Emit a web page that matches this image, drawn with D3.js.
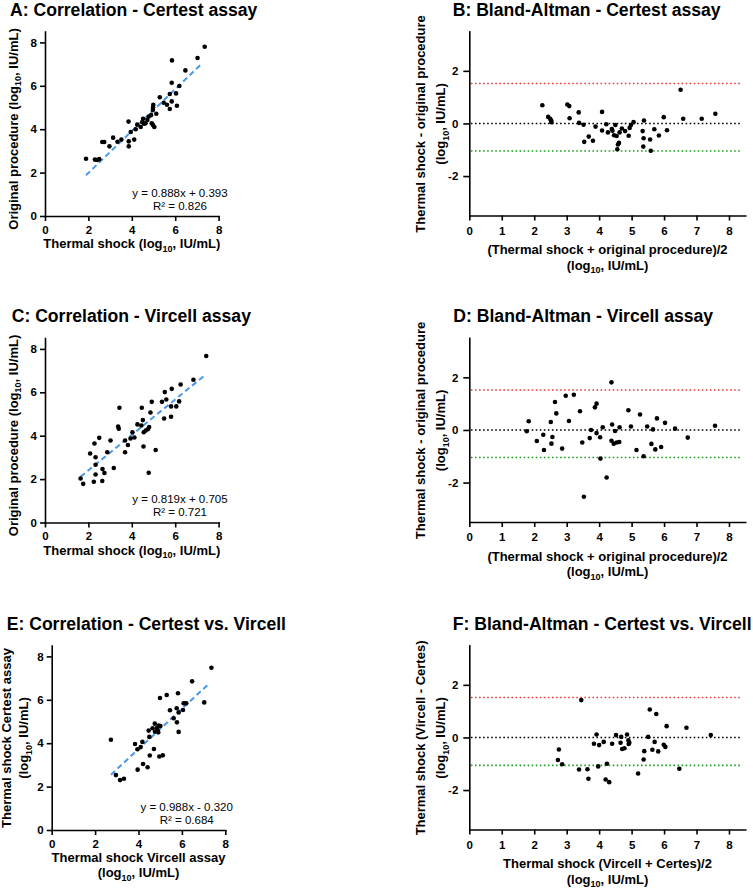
<!DOCTYPE html>
<html><head><meta charset="utf-8">
<script src="https://cdn.jsdelivr.net/npm/d3@7"></script>
<style>
body{margin:0;background:#fff}
svg{display:block}
</style>
</head><body>
<svg id="chart" width="753" height="891"></svg>
<script>
// ---------------- DATA ----------------
// A: Correlation - Certest assay  [thermal shock, original procedure]
const corrCertest = [[1.89,2.64],[2.30,2.60],[2.40,2.58],[2.50,2.62],[2.64,3.41],[2.73,3.41],[2.97,3.21],[3.14,3.61],[3.34,3.42],[3.52,3.52],[3.86,3.44],[3.86,3.21],[4.11,3.52],[3.85,4.35],[3.95,3.87],[4.18,4.00],[4.25,4.21],[4.41,4.10],[4.48,4.33],[4.52,4.48],[4.63,4.27],[4.72,4.42],[4.78,4.58],[4.55,4.25],[4.89,4.65],[4.92,4.27],[4.98,4.19],[5.04,4.10],[4.97,4.88],[4.98,5.01],[4.99,5.12],[5.13,4.71],[5.29,5.47],[5.47,5.22],[5.62,5.13],[5.75,4.93],[5.75,5.62],[5.84,5.28],[6.04,5.65],[6.08,5.08],[5.84,6.14],[6.19,5.99],[5.85,7.17],[6.47,6.71],[7.03,7.28],[7.36,7.80]];
const fitCertest = [[1.89,1.88],[7.25,7.05]];
const eqCertest = ["y = 0.888x + 0.393", "R² = 0.826"];

// B: Bland-Altman - Certest assay [mean, difference]
const baCertest = [[2.25,0.69],[2.43,0.25],[2.49,0.18],[2.52,0.12],[2.53,0.05],[3.02,0.72],[3.08,0.66],[3.09,0.20],[3.37,0.42],[3.38,0.02],[3.52,-0.05],[3.54,-0.70],[3.68,-0.50],[3.81,-0.66],[3.89,-0.12],[4.09,0.44],[4.09,-0.27],[4.22,-0.03],[4.27,-0.34],[4.39,-0.21],[4.41,-0.28],[4.46,-0.45],[4.50,-0.06],[4.54,-0.48],[4.58,-0.80],[4.61,-0.74],[4.56,-0.98],[4.63,-0.34],[4.70,-0.19],[4.80,-0.29],[4.91,-0.47],[4.94,-0.17],[4.98,-0.06],[5.06,0.05],[5.34,-0.29],[5.38,0.11],[5.37,-0.56],[5.36,-0.88],[5.57,-0.61],[5.59,-1.04],[5.70,-0.22],[5.84,-0.46],[5.99,0.24],[6.09,-0.26],[6.51,1.28],[6.59,0.18],[7.16,0.18],[7.58,0.37]];
const limitsCertest = [1.52, 0, -1.05];

// C: Correlation - Vircell assay
const corrVircell = [[1.64,2.03],[1.76,1.78],[2.08,3.18],[2.25,1.88],[2.28,3.64],[2.33,3.01],[2.33,2.66],[2.33,2.21],[2.50,3.90],[2.65,2.46],[2.74,2.28],[2.64,1.91],[2.87,3.24],[3.02,3.78],[3.17,2.51],[3.43,5.29],[3.37,4.42],[3.40,4.32],[3.69,3.78],[3.69,3.24],[3.82,3.57],[3.94,3.87],[4.03,4.16],[4.12,3.92],[4.26,4.52],[4.46,5.29],[4.44,4.47],[4.51,4.72],[4.55,4.16],[4.64,4.24],[4.74,4.30],[4.80,4.40],[4.54,3.50],[4.78,2.29],[4.86,5.07],[4.92,5.56],[5.10,3.34],[5.39,5.56],[5.49,4.79],[5.52,6.01],[5.59,5.67],[5.81,5.35],[5.81,4.87],[5.84,6.16],[6.05,5.35],[6.18,5.58],[6.25,6.36],[6.84,6.58],[7.43,7.67]];
const fitVircell = [[1.64,2.11],[7.37,6.79]];
const eqVircell = ["y = 0.819x + 0.705", "R² = 0.721"];

// D: Bland-Altman - Vircell assay
const baVircell = [[1.77,-0.05],[1.83,0.33],[2.08,-0.42],[2.28,-0.18],[2.30,-0.76],[2.51,0.30],[2.53,-0.52],[2.56,-0.27],[2.64,1.06],[2.68,0.63],[2.86,-0.71],[2.97,1.30],[3.07,0.34],[3.22,1.34],[3.41,0.71],[3.48,-0.48],[3.53,-2.54],[3.71,-0.31],[3.75,0.00],[3.87,0.86],[3.92,1.00],[3.92,-0.12],[4.03,-0.28],[4.04,-1.09],[4.11,0.10],[4.23,-1.81],[4.38,1.81],[4.40,0.21],[4.38,-0.41],[4.45,-0.52],[4.49,-0.04],[4.54,-0.48],[4.63,0.10],[4.62,-0.46],[4.90,0.75],[4.98,0.13],[5.15,-0.76],[5.26,0.59],[5.37,-1.00],[5.48,0.13],[5.61,-0.53],[5.66,0.02],[5.73,-0.74],[5.78,0.44],[5.91,-0.65],[6.03,0.27],[6.34,0.05],[6.73,-0.29],[7.57,0.16]];
const limitsVircell = [1.52, 0, -1.05];

// E: Correlation - Certest vs. Vircell
const corrCvV = [[2.73,4.16],[2.96,2.53],[3.15,2.30],[3.33,2.36],[3.84,3.96],[3.95,3.72],[3.96,2.78],[4.10,3.82],[4.18,4.06],[4.21,3.04],[4.42,2.89],[4.50,4.29],[4.52,3.43],[4.47,4.58],[4.65,4.69],[4.71,3.73],[4.75,4.90],[4.76,4.53],[4.85,4.70],[4.88,4.60],[4.91,4.50],[4.93,4.81],[4.99,6.08],[4.96,3.39],[5.01,4.79],[5.12,3.44],[5.30,6.22],[5.45,5.52],[5.62,5.15],[5.77,4.96],[5.76,5.61],[5.82,6.30],[5.85,5.42],[5.85,4.52],[6.05,5.53],[6.08,5.84],[6.16,5.84],[6.20,5.84],[6.47,6.85],[7.03,5.88],[7.36,7.48]];
const fitCvV = [[2.73,2.55],[7.23,6.73]];
const eqCvV = ["y = 0.988x - 0.320", "R² = 0.684"];

// F: Bland-Altman - Certest vs. Vircell
const baCvV = [[2.76,-0.46],[2.73,-0.86],[2.86,-1.02],[3.38,-1.22],[3.45,1.42],[3.64,-1.21],[3.67,-1.57],[3.84,-0.24],[3.92,0.11],[4.00,-0.29],[3.97,-1.10],[4.14,-0.17],[4.20,-1.60],[4.24,-1.00],[4.31,-1.70],[4.40,-0.24],[4.52,0.09],[4.66,-0.20],[4.68,0.02],[4.71,-0.44],[4.78,-0.41],[4.86,0.11],[4.90,-0.11],[4.91,-0.25],[4.93,-0.20],[5.20,-1.37],[5.37,-0.84],[5.39,-0.52],[5.51,0.02],[5.56,1.06],[5.64,-0.47],[5.71,-0.17],[5.76,0.89],[5.82,-0.53],[5.99,-0.28],[6.04,-0.36],[6.08,0.43],[6.47,-1.19],[6.69,0.37],[7.44,0.09]];
const limitsCvV = [1.52, 0, -1.06];

const corrTicks = [0, 2, 4, 6, 8];
const baXTicks = [0, 1, 2, 3, 4, 5, 6, 7, 8];
const baYTicks = [-2, 0, 2];
const limitColors = ["#f23a3a", "#000000", "#1e9e1e"];

// ---------------- DRAWING ----------------
const FONT = '"Liberation Sans", Arial, Helvetica, sans-serif';
const svg = d3.select("#chart").attr("font-family", FONT);
svg.append("rect").attr("width", 753).attr("height", 891).attr("fill", "#fff");
const ROW = [0, 306.5, 614];

function rich(sel, str) {
  const i = str.indexOf("log10");
  if (i < 0) { sel.text(str); return; }
  sel.append("tspan").text(str.slice(0, i + 3));
  sel.append("tspan").attr("font-size", "9px").attr("dy", 3.5).text("10");
  sel.append("tspan").attr("dy", -3.5).text(str.slice(i + 5));
}

function styleAxis(g) {
  g.attr("font-family", FONT).attr("font-size", "11.5px").attr("font-weight", "bold");
  g.selectAll(".domain").attr("stroke", "#000").attr("stroke-width", 1.6).attr("stroke-linecap", "square");
  g.selectAll(".tick line").attr("stroke", "#000").attr("stroke-width", 1.6);
  g.selectAll(".tick text").attr("fill", "#000");
}

function title(txt, x, y) {
  svg.append("text").attr("x", x).attr("y", y).attr("font-size", "17.6px")
    .attr("font-weight", "bold").attr("fill", "#000").text(txt);
}

function yLabel(lines, xs, cy) {
  lines.forEach((ln, i) => {
    const t = svg.append("text").attr("transform", `translate(${xs[i]},${cy}) rotate(-90)`)
      .attr("text-anchor", "middle").attr("font-size", "13px").attr("font-weight", "bold").attr("fill", "#000");
    rich(t, ln);
  });
}

function xLabel(lines, cx, ys) {
  lines.forEach((ln, i) => {
    const t = svg.append("text").attr("x", cx).attr("y", ys[i])
      .attr("text-anchor", "middle").attr("font-size", "13px").attr("font-weight", "bold").attr("fill", "#000");
    rich(t, ln);
  });
}

function points(g, data, x, y) {
  g.selectAll("circle.pt").data(data).enter().append("circle").attr("class", "pt")
    .attr("cx", d => x(d[0])).attr("cy", d => y(d[1])).attr("r", 2.3).attr("fill", "#000");
}

function corrPanel(cfg) {
  const off = ROW[cfg.row];
  const x = d3.scaleLinear().domain([0, 8]).range([cfg.x0, cfg.x0 + 8 * 21.7]);
  const y = d3.scaleLinear().domain([0, 8.5]).range([216 + off, 216 + off - 8.5 * 21.7]);
  const g = svg.append("g");
  const line = d3.line().x(d => x(d[0])).y(d => y(d[1]));
  g.append("path").attr("d", line(cfg.fit)).attr("fill", "none").attr("stroke", "#4a98ea")
    .attr("stroke-width", 2).attr("stroke-dasharray", "5.5,3.5");
  points(g, cfg.data, x, y);
  const ax = g.append("g").attr("transform", `translate(0,${y(0)})`)
    .call(d3.axisBottom(x).tickValues(corrTicks).tickSize(5).tickSizeOuter(0).tickPadding(4.5));
  styleAxis(ax);
  const ay = g.append("g").attr("transform", `translate(${x(0)},0)`)
    .call(d3.axisLeft(y).tickValues(corrTicks).tickSize(5).tickSizeOuter(0).tickPadding(3));
  styleAxis(ay);
  cfg.eq.forEach((s, i) => {
    g.append("text").attr("x", cfg.x0 + 135).attr("y", y(0) - 19.5 + i * 13)
      .attr("text-anchor", "middle").attr("font-size", "11.5px").attr("fill", "#000").text(s);
  });
  title(cfg.title, cfg.tx, 15.5 + off);
  yLabel(cfg.ylab, cfg.ylx, cfg.ylc + off);
  xLabel(cfg.xlab, (x(0) + x(8)) / 2, cfg.xly.map(v => v + off));
}

function baPanel(cfg) {
  const off = ROW[cfg.row];
  const x = d3.scaleLinear().domain([0, 8.5]).range([469.3, 469.3 + 8.5 * 32.46]);
  const y = d3.scaleLinear().domain([-3.5, 3.5]).range([215.5 + off, 215.5 + off - 7 * 26.3]);
  const g = svg.append("g");
  const line = d3.line().x(d => x(d[0])).y(d => y(d[1]));
  cfg.limits.forEach((v, i) => {
    g.append("path").attr("d", line([[0.05, v], [8.4, v]])).attr("fill", "none")
      .attr("stroke", limitColors[i]).attr("stroke-width", 1.6).attr("stroke-dasharray", "1.6,2.45");
  });
  points(g, cfg.data, x, y);
  const ax = g.append("g").attr("transform", `translate(0,${y(-3.5)})`)
    .call(d3.axisBottom(x).tickValues(baXTicks).tickSize(5).tickSizeOuter(0).tickPadding(6));
  styleAxis(ax);
  const ay = g.append("g").attr("transform", `translate(${x(0)},0)`)
    .call(d3.axisLeft(y).tickValues(baYTicks).tickSize(6).tickSizeOuter(0).tickPadding(5)
      .tickFormat(d => d < 0 ? "-" + Math.abs(d) : String(d)));
  styleAxis(ay);
  title(cfg.title, cfg.tx, 15.5 + off);
  yLabel(cfg.ylab, [424.5, 445], y(0) + 0.5);
  xLabel(cfg.xlab, 607.5, [254 + off, 269.5 + off]);
}

corrPanel({row: 0, x0: 45, data: corrCertest, fit: fitCertest, eq: eqCertest,
  title: "A: Correlation - Certest assay", tx: 10,
  ylab: ["Original procedure (log10, IU/mL)"], ylx: [17.5], ylc: 129,
  xlab: ["Thermal shock (log10, IU/mL)"], xly: [248]});
baPanel({row: 0, data: baCertest, limits: limitsCertest,
  title: "B: Bland-Altman - Certest assay", tx: 452.7,
  ylab: ["Thermal shock - original procedure", "(log10, IU/mL)"],
  xlab: ["(Thermal shock + original procedure)/2", "(log10, IU/mL)"]});

corrPanel({row: 1, x0: 45, data: corrVircell, fit: fitVircell, eq: eqVircell,
  title: "C: Correlation - Vircell assay", tx: 11.7,
  ylab: ["Original procedure (log10, IU/mL)"], ylx: [17.5], ylc: 129,
  xlab: ["Thermal shock (log10, IU/mL)"], xly: [248]});
baPanel({row: 1, data: baVircell, limits: limitsVircell,
  title: "D: Bland-Altman - Vircell assay", tx: 453.3,
  ylab: ["Thermal shock - original procedure", "(log10, IU/mL)"],
  xlab: ["(Thermal shock + original procedure)/2", "(log10, IU/mL)"]});

corrPanel({row: 2, x0: 51.7, data: corrCvV, fit: fitCvV, eq: eqCvV,
  title: "E: Correlation - Certest vs. Vircell", tx: 6.7,
  ylab: ["Thermal shock Certest assay", "(log10, IU/mL)"], ylx: [11, 28], ylc: 124,
  xlab: ["Thermal shock Vircell assay", "(log10, IU/mL)"], xly: [248, 263]});
baPanel({row: 2, data: baCvV, limits: limitsCvV,
  title: "F: Bland-Altman - Certest vs. Vircell", tx: 452.7,
  ylab: ["Thermal shock (Vircell - Certes)", "(log10, IU/mL)"],
  xlab: ["Thermal shock (Vircell + Certes)/2", "(log10, IU/mL)"]});
</script>
</body></html>
